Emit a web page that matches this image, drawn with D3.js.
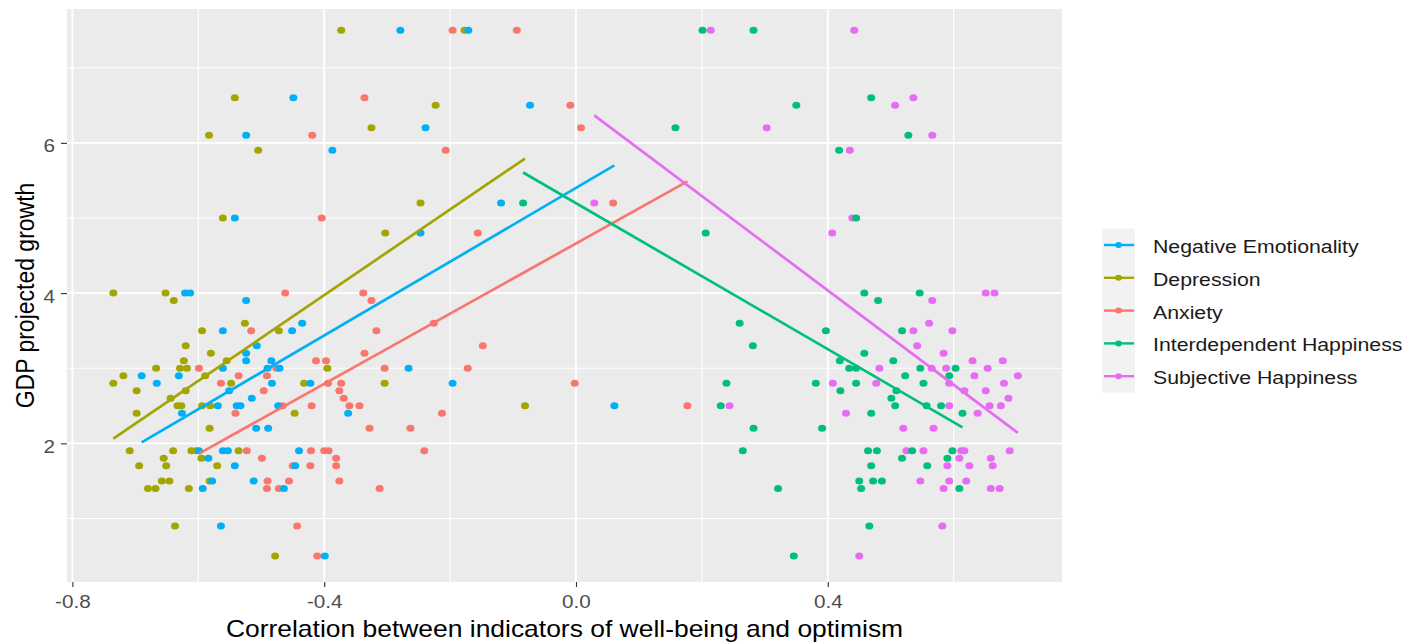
<!DOCTYPE html>
<html>
<head>
<meta charset="utf-8">
<script src="https://cdn.jsdelivr.net/npm/d3@7"></script>
<style>
  body { margin: 0; background: #fff; }
  svg { display: block; font-family: "Liberation Sans", Arial, sans-serif; }
</style>
</head>
<body>
<div id="chart"></div>
<script>
// series order as in the legend
const seriesNames = ["Negative Emotionality", "Depression", "Anxiety", "Interdependent Happiness", "Subjective Happiness"];
const seriesColors = ["#00B0F6", "#A3A500", "#F8766D", "#00BF7D", "#E76BF3"];

// [correlation, GDP projected growth]
const negEmotionality = [
  [-0.279, 7.5], [-0.171, 7.5], [-0.449, 6.6], [-0.073, 6.5], [-0.239, 6.2], [-0.524, 6.1],
  [-0.387, 5.9], [-0.119, 5.2], [-0.542, 5.0], [-0.247, 4.8], [-0.621, 4.0], [-0.613, 4.0],
  [-0.524, 3.9], [-0.435, 3.6], [-0.561, 3.5], [-0.451, 3.5], [-0.507, 3.3], [-0.524, 3.2],
  [-0.524, 3.1], [-0.484, 3.1], [-0.561, 3.0], [-0.471, 3.0], [-0.266, 3.0], [-0.490, 3.0],
  [-0.690, 2.9], [-0.631, 2.9], [-0.666, 2.8], [-0.483, 2.8], [-0.422, 2.8], [-0.196, 2.8],
  [-0.551, 2.7], [-0.515, 2.6], [-0.569, 2.5], [-0.539, 2.5], [-0.533, 2.5], [-0.473, 2.5],
  [0.061, 2.5], [-0.626, 2.4], [-0.362, 2.4], [-0.508, 2.2], [-0.489, 2.2], [-0.599, 1.9],
  [-0.561, 1.9], [-0.553, 1.9], [-0.440, 1.9], [-0.584, 1.8], [-0.542, 1.7], [-0.446, 1.7],
  [-0.578, 1.5], [-0.512, 1.5], [-0.593, 1.4], [-0.464, 1.4], [-0.564, 0.9], [-0.399, 0.5]
];
const depression = [
  [-0.373, 7.5], [-0.177, 7.5], [-0.542, 6.6], [-0.223, 6.5], [-0.325, 6.2], [-0.583, 6.1],
  [-0.505, 5.9], [-0.247, 5.2], [-0.561, 5.0], [-0.303, 4.8], [-0.735, 4.0], [-0.652, 4.0],
  [-0.639, 3.9], [-0.526, 3.6], [-0.594, 3.5], [-0.472, 3.5], [-0.620, 3.3], [-0.580, 3.2],
  [-0.623, 3.1], [-0.555, 3.1], [-0.667, 3.0], [-0.629, 3.0], [-0.618, 3.0], [-0.395, 3.0],
  [-0.719, 2.9], [-0.589, 2.9], [-0.735, 2.8], [-0.548, 2.8], [-0.432, 2.8], [-0.304, 2.8],
  [-0.698, 2.7], [-0.620, 2.7], [-0.644, 2.6], [-0.633, 2.5], [-0.627, 2.5], [-0.594, 2.5],
  [-0.581, 2.5], [-0.081, 2.5], [-0.698, 2.4], [-0.447, 2.4], [-0.582, 2.2], [-0.709, 1.9],
  [-0.640, 1.9], [-0.611, 1.9], [-0.603, 1.9], [-0.536, 1.9], [-0.655, 1.8], [-0.595, 1.8],
  [-0.694, 1.7], [-0.651, 1.7], [-0.570, 1.7], [-0.658, 1.5], [-0.646, 1.5], [-0.582, 1.5],
  [-0.680, 1.4], [-0.668, 1.4], [-0.615, 1.4], [-0.637, 0.9], [-0.478, 0.5]
];
const anxiety = [
  [-0.196, 7.5], [-0.094, 7.5], [-0.336, 6.6], [-0.009, 6.5], [0.008, 6.2], [-0.419, 6.1],
  [-0.207, 5.9], [0.059, 5.2], [-0.404, 5.0], [-0.156, 4.8], [-0.462, 4.0], [-0.338, 4.0],
  [-0.325, 3.9], [-0.226, 3.6], [-0.516, 3.5], [-0.317, 3.5], [-0.148, 3.3], [-0.336, 3.2],
  [-0.413, 3.1], [-0.397, 3.1], [-0.599, 3.0], [-0.476, 3.0], [-0.304, 3.0], [-0.172, 3.0],
  [-0.536, 2.9], [-0.491, 2.9], [-0.564, 2.8], [-0.394, 2.8], [-0.373, 2.8], [-0.002, 2.8],
  [-0.496, 2.7], [-0.376, 2.7], [-0.369, 2.6], [-0.466, 2.5], [-0.420, 2.5], [-0.360, 2.5],
  [-0.344, 2.5], [0.177, 2.5], [-0.541, 2.4], [-0.213, 2.4], [-0.328, 2.2], [-0.263, 2.2],
  [-0.523, 1.9], [-0.421, 1.9], [-0.400, 1.9], [-0.393, 1.9], [-0.241, 1.9], [-0.499, 1.8],
  [-0.381, 1.8], [-0.450, 1.7], [-0.422, 1.7], [-0.381, 1.7], [-0.490, 1.5], [-0.456, 1.5],
  [-0.376, 1.5], [-0.491, 1.4], [-0.472, 1.4], [-0.312, 1.4], [-0.443, 0.9], [-0.411, 0.5]
];
const interdependent = [
  [0.201, 7.5], [0.282, 7.5], [0.469, 6.6], [0.350, 6.5], [0.158, 6.2], [0.528, 6.1],
  [0.418, 5.9], [-0.084, 5.2], [0.445, 5.0], [0.206, 4.8], [0.458, 4.0], [0.546, 4.0],
  [0.480, 3.9], [0.260, 3.6], [0.397, 3.5], [0.518, 3.5], [0.281, 3.3], [0.458, 3.2],
  [0.419, 3.1], [0.504, 3.1], [0.434, 3.0], [0.445, 3.0], [0.547, 3.0], [0.603, 3.0],
  [0.523, 2.9], [0.593, 2.9], [0.239, 2.8], [0.381, 2.8], [0.445, 2.8], [0.552, 2.8],
  [0.420, 2.7], [0.509, 2.7], [0.501, 2.6], [0.230, 2.5], [0.507, 2.5], [0.557, 2.5],
  [0.580, 2.5], [0.469, 2.4], [0.614, 2.4], [0.282, 2.2], [0.391, 2.2], [0.265, 1.9],
  [0.464, 1.9], [0.478, 1.9], [0.534, 1.9], [0.598, 1.9], [0.518, 1.8], [0.590, 1.8],
  [0.469, 1.7], [0.558, 1.7], [0.450, 1.5], [0.472, 1.5], [0.486, 1.5], [0.321, 1.4],
  [0.453, 1.4], [0.609, 1.4], [0.466, 0.9], [0.346, 0.5]
];
const subjective = [
  [0.214, 7.5], [0.442, 7.5], [0.536, 6.6], [0.507, 6.5], [0.303, 6.2], [0.566, 6.1],
  [0.435, 5.9], [0.029, 5.2], [0.439, 5.0], [0.407, 4.8], [0.651, 4.0], [0.665, 4.0],
  [0.566, 3.9], [0.561, 3.6], [0.536, 3.5], [0.598, 3.5], [0.542, 3.3], [0.584, 3.2],
  [0.630, 3.1], [0.678, 3.1], [0.482, 3.0], [0.565, 3.0], [0.588, 3.0], [0.654, 3.0],
  [0.633, 2.9], [0.702, 2.9], [0.408, 2.8], [0.477, 2.8], [0.593, 2.8], [0.680, 2.8],
  [0.617, 2.7], [0.651, 2.7], [0.687, 2.6], [0.244, 2.5], [0.593, 2.5], [0.657, 2.5],
  [0.675, 2.5], [0.429, 2.4], [0.638, 2.4], [0.520, 2.2], [0.568, 2.2], [0.525, 1.9],
  [0.552, 1.9], [0.612, 1.9], [0.617, 1.9], [0.689, 1.9], [0.609, 1.8], [0.659, 1.8],
  [0.590, 1.7], [0.625, 1.7], [0.662, 1.7], [0.547, 1.5], [0.593, 1.5], [0.620, 1.5],
  [0.584, 1.4], [0.659, 1.4], [0.673, 1.4], [0.582, 0.9], [0.450, 0.5]
];
const seriesPoints = [negEmotionality, depression, anxiety, interdependent, subjective];

// linear fits (intercept, slope), same order as seriesNames
const fitIntercept = [5.40, 6.253, 4.66, 5.197, 6.548];
const fitSlope = [4.91, 5.70, 4.67, -4.86, -6.28];

const xTicks = [-0.8, -0.4, 0.0, 0.4];
const xMinor = [-0.6, -0.2, 0.2, 0.6];
const yTicks = [2, 4, 6];
const yMinor = [1, 3, 5, 7];

const width = 1416, height = 643;
const panel = {left: 67, right: 1062, top: 9, bottom: 582};
const sx = 1.15; // the picture is slightly wider than tall

const x = d3.scaleLinear().domain([-0.8086, 0.7721]).range([panel.left, panel.right]);
const y = d3.scaleLinear().domain([0.154, 7.782]).range([panel.bottom, panel.top]);

const svg = d3.select("#chart").append("svg")
  .attr("width", width)
  .attr("height", height);

svg.append("rect")
  .attr("x", panel.left).attr("y", panel.top)
  .attr("width", panel.right - panel.left)
  .attr("height", panel.bottom - panel.top)
  .attr("fill", "#EBEBEB");

const grid = svg.append("g");
grid.selectAll(".vminor").data(xMinor).enter().append("line")
  .attr("x1", d => x(d)).attr("x2", d => x(d))
  .attr("y1", panel.top).attr("y2", panel.bottom)
  .attr("stroke", "#fff").attr("stroke-width", 1.1);
grid.selectAll(".hminor").data(yMinor).enter().append("line")
  .attr("y1", d => y(d)).attr("y2", d => y(d))
  .attr("x1", panel.left).attr("x2", panel.right)
  .attr("stroke", "#fff").attr("stroke-width", 1.1);
grid.selectAll(".vmajor").data(xTicks).enter().append("line")
  .attr("x1", d => x(d)).attr("x2", d => x(d))
  .attr("y1", panel.top).attr("y2", panel.bottom)
  .attr("stroke", "#fff").attr("stroke-width", 1.9);
grid.selectAll(".hmajor").data(yTicks).enter().append("line")
  .attr("y1", d => y(d)).attr("y2", d => y(d))
  .attr("x1", panel.left).attr("x2", panel.right)
  .attr("stroke", "#fff").attr("stroke-width", 1.9);

// points
const drawOrder = [2, 1, 4, 3, 0];
drawOrder.forEach(function(i) {
  svg.append("g").selectAll("ellipse")
    .data(seriesPoints[i])
    .enter().append("ellipse")
    .attr("cx", d => x(d[0]))
    .attr("cy", d => y(d[1]))
    .attr("rx", 4.0)
    .attr("ry", 3.5)
    .attr("fill", seriesColors[i]);
});

// fitted lines over the range of each series
seriesPoints.forEach(function(pts, i) {
  let ext = d3.extent(pts, d => d[0]);
  let fit = ext.map(v => [v, fitIntercept[i] + fitSlope[i] * v]);
  svg.append("path")
    .attr("d", d3.line().x(d => x(d[0])).y(d => y(d[1]))(fit))
    .attr("fill", "none")
    .attr("stroke", seriesColors[i])
    .attr("stroke-width", 2.7);
});

// axes
const xAxis = svg.append("g")
  .attr("transform", "translate(0," + panel.bottom + ")")
  .call(d3.axisBottom(x).tickValues(xTicks).tickSize(5).tickPadding(8).tickFormat(d => d.toFixed(1)));
const yAxis = svg.append("g")
  .attr("transform", "translate(" + panel.left + ",0)")
  .call(d3.axisLeft(y).tickValues(yTicks).tickSize(6).tickPadding(4.5).tickFormat(d3.format("d")));

[xAxis, yAxis].forEach(function(ax) {
  ax.attr("font-family", null).attr("font-size", null);
  ax.select(".domain").remove();
  ax.selectAll(".tick line").attr("stroke", "#333").attr("stroke-width", 1.1);
  ax.selectAll(".tick text")
    .attr("fill", "#4D4D4D")
    .attr("font-size", 18)
    .attr("transform", "scale(" + sx + ",1)");
});
yAxis.selectAll(".tick text").attr("dy", "0.5em");

// axis titles
svg.append("g")
  .attr("transform", "translate(" + (panel.left + panel.right) / 2 + ",636.5)")
  .append("text")
  .attr("text-anchor", "middle")
  .attr("font-size", 23)
  .attr("fill", "#000")
  .attr("transform", "scale(" + sx + ",1)")
  .text("Correlation between indicators of well-being and optimism");

svg.append("g")
  .attr("transform", "translate(33.5," + (panel.top + panel.bottom) / 2 + ") rotate(-90)")
  .append("text")
  .attr("text-anchor", "middle")
  .attr("font-size", 23)
  .attr("fill", "#000")
  .attr("transform", "scale(1," + sx + ")")
  .text("GDP projected growth");

// legend
const legend = svg.append("g").attr("transform", "translate(1102,228.6)");
const keyH = 32.8, keyW = 33;
const item = legend.selectAll("g").data(seriesNames).enter().append("g")
  .attr("transform", (d, i) => "translate(0," + i * keyH + ")");
item.append("rect")
  .attr("width", keyW).attr("height", keyH)
  .attr("fill", "#F2F2F2");
item.append("line")
  .attr("x1", 2).attr("x2", keyW - 1)
  .attr("y1", keyH / 2).attr("y2", keyH / 2)
  .attr("stroke", (d, i) => seriesColors[i])
  .attr("stroke-width", 2.4);
item.append("ellipse")
  .attr("cx", keyW / 2).attr("cy", keyH / 2)
  .attr("rx", 3.4).attr("ry", 3.0)
  .attr("fill", (d, i) => seriesColors[i]);
item.append("g")
  .attr("transform", "translate(51," + (keyH / 2 + 8) + ")")
  .append("text")
  .attr("font-size", 18.5)
  .attr("fill", "#1a1a1a")
  .attr("transform", "scale(" + sx + ",1)")
  .text(d => d);
</script>
</body>
</html>
